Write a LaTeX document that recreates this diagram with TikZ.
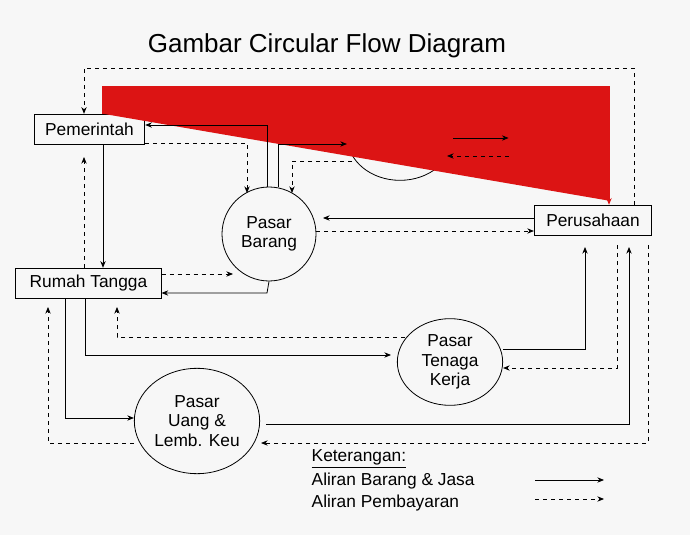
\documentclass[tikz,border=0pt]{standalone}
\usepackage{fontspec}
\setmainfont{Liberation Sans}
\usetikzlibrary{shapes.geometric,arrows.meta}
\definecolor{flowred}{RGB}{220,20,20}
\begin{document}
\begin{tikzpicture}[x=0.75pt,y=-0.75pt,
  lbl/.style={font=\fontsize{13}{14.5}\selectfont,align=center},
  box/.style={draw,semithick,lbl,inner sep=0pt},
  el/.style={draw,semithick,ellipse,lbl,inner sep=0pt},
  sa/.style={-{Stealth[length=5pt,width=4pt]},semithick},
  da/.style={sa,dashed},
  ra/.style={-{Stealth[length=5pt,width=4pt]},thick,draw=flowred,fill=flowred}]
\fill[gray!6] (0,0) rectangle (690,535);
\useasboundingbox (0,0) rectangle (690,535);
\node[font=\fontsize{19.5}{22}\selectfont] (title) at (327,46) {Gambar Circular Flow Diagram};
\node[box,minimum width=83pt,minimum height=23pt] (pem) at (89.5,129.5) {Pemerintah};
\node[box,minimum width=109pt,minimum height=23pt] (rt) at (88.5,283.5) {Rumah Tangga};
\node[box,minimum width=88pt,minimum height=23pt] (per) at (593,220.5) {Perusahaan};
\node[box,minimum width=63pt,minimum height=57pt,text width=55pt,align=left] (neg) at (551,137) {Negara-\\Negara\\Lain};
\node[el,minimum width=70.5pt,minimum height=70.5pt] (bar) at (269,234) {Pasar\\Barang};
\node[el,minimum width=79pt,minimum height=65pt] (ln) at (400,137) {Pasar\\Luar\\Negeri};
\node[el,minimum width=79pt,minimum height=65pt] (tk) at (450,362) {Pasar\\Tenaga\\Kerja};
\node[el,minimum width=94pt,minimum height=79pt] (ug) at (197,421) {Pasar\\Uang \&\\Lemb. Keu};
% top loops
\coordinate (c1) at (84,68);
\coordinate (c2) at (634,68);
\draw[da] (per.north -| c2) -- (c2) -- (c1) -- (pem.north -| c1);
\coordinate (r1) at (103,87);
\coordinate (r2) at (609,87);
\draw[ra] (pem.north -| r1) -- (r1) -- (r2) -- (per.north -| r2);
% Pemerintah - Barang
\draw[sa] (bar.north -| 267,0) -- (267,125) -- (pem.east |- 0,125);
\draw[da] (pem.east |- 0,143) -- (247,143) -- (247,193);
\draw[sa] (bar.north -| 278,0) -- (278,144) -- (ln.west |- 0,144);
\draw[da] (352,161) -- (292,161) -- (292,193);
% Luar negeri - negara
\draw[sa] (ln.east |- 0,138) -- (neg.west |- 0,138);
\draw[da] (neg.west |- 0,156) -- (447,156);
% Perusahaan - Barang
\draw[sa] (per.west |- 0,218) -- (323,218);
\draw[da] (316,231) -- (per.west |- 0,231);
% Pemerintah - RT
\draw[sa] (pem.south -| 103,0) -- (rt.north -| 103,0);
\draw[da] (rt.north -| 84,0) -- (84,157);
% RT - Barang
\draw[da] (rt.east |- 0,274) -- (233,274);
\draw[sa] (bar.south) -- (267,293) -- (rt.east |- 0,293);
% RT - Uang
\draw[da] (ug.west |- 0,443) -- (48,443) -- (48,307);
\draw[sa] (rt.south -| 65,0) -- (65,418) -- (ug.west |- 0,418);
% RT - Tenaga
\draw[sa] (rt.south -| 85,0) -- (85,355) -- (391,355);
\draw[da] (405,337) -- (117,337) -- (117,307);
% Tenaga - Perusahaan
\draw[sa] (503,349) -- (585,349) -- (585,247);
\draw[da] (617,245) -- (617,368) -- (tk.east |- 0,368);
% Uang - Perusahaan
\draw[sa] (266,424) -- (629,424) -- (629,247);
\draw[da] (648,245) -- (648,443) -- (261,443);
% legend
\node[anchor=west,font=\fontsize{13}{14}\selectfont] (k) at (307,459) {\underline{Keterangan:}};
\node[anchor=west,font=\fontsize{13}{14}\selectfont] (l1) at (307,481) {Aliran Barang \& Jasa};
\node[anchor=west,font=\fontsize{13}{14}\selectfont] (l2) at (307,503) {Aliran Pembayaran};
\coordinate (a1) at (535,480); \coordinate (b1) at (604,480);
\coordinate (a2) at (535,499); \coordinate (b2) at (604,499);
\draw[sa] (a1) -- (b1);
\draw[da] (a2) -- (b2);
\end{tikzpicture}
\end{document}
